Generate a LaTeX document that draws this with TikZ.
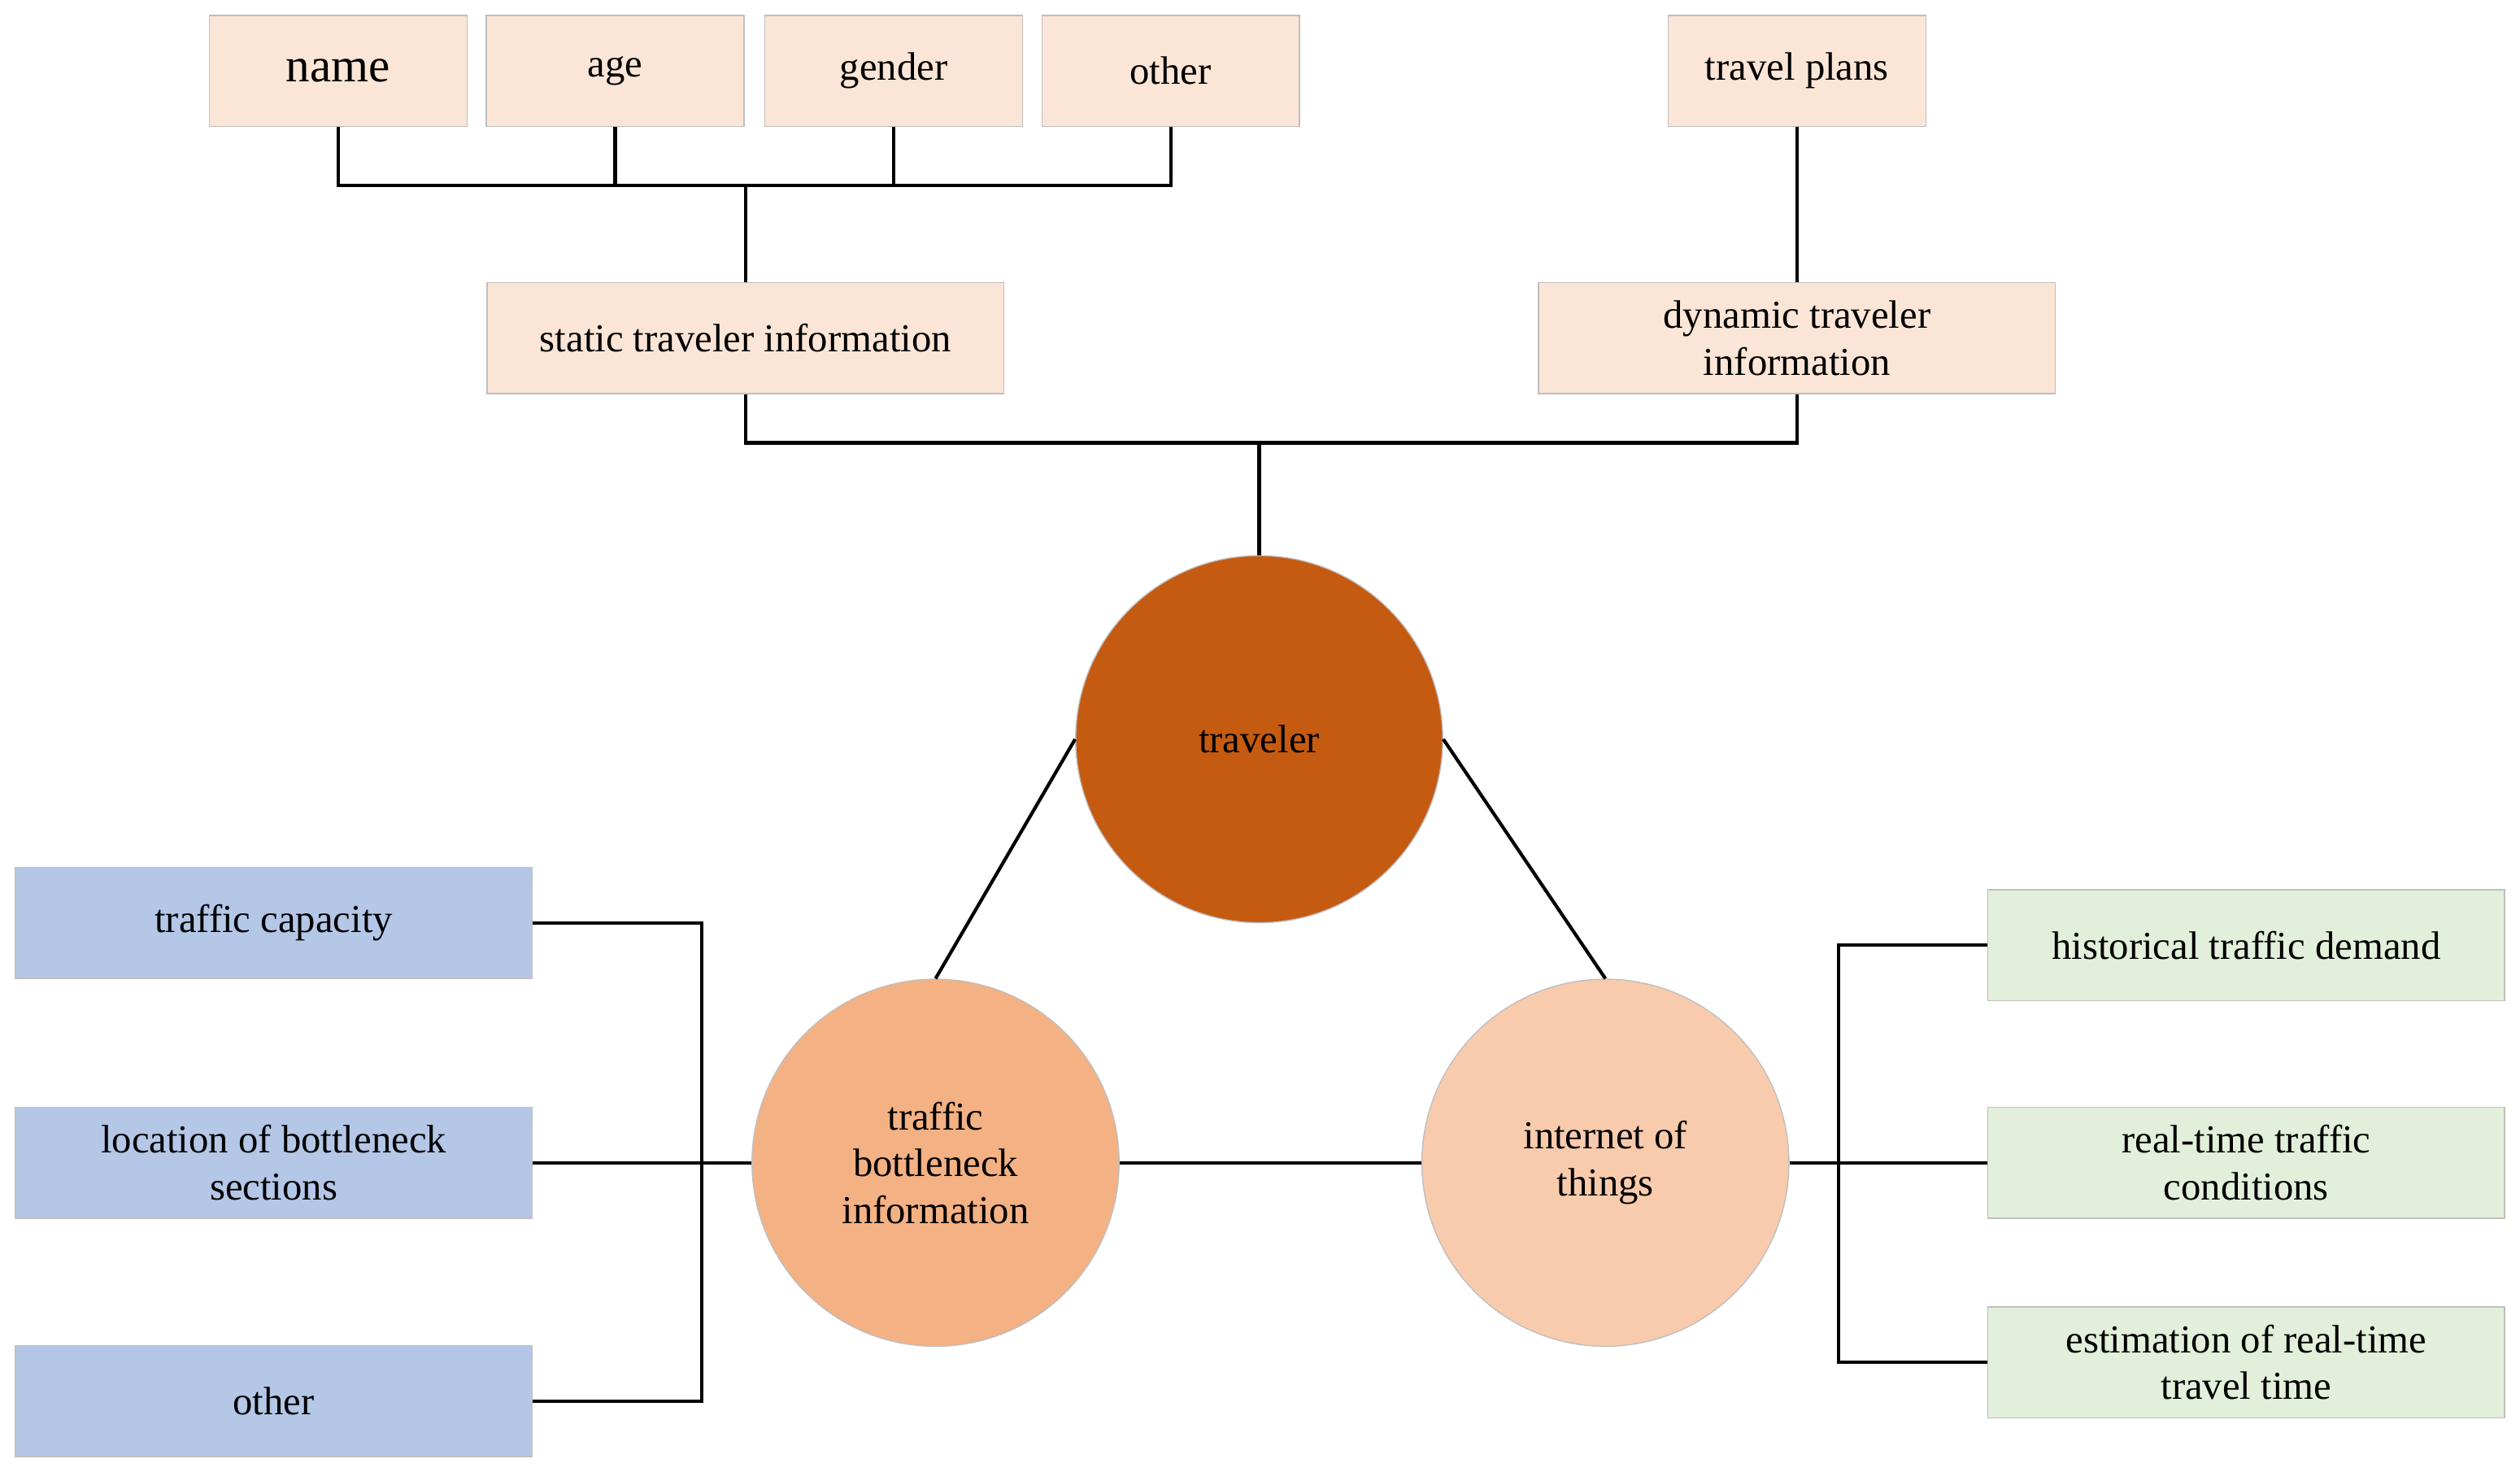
\documentclass[tikz,border=0pt]{standalone}
\usepackage{fontspec}
\setmainfont{Liberation Serif}
\begin{document}
\begin{tikzpicture}[x=0.02cm,y=-0.02cm,
 bx/.style={draw=black!25,minimum width=6.42cm,minimum height=1.38cm,align=center,font=\fontsize{14}{16.5}\selectfont,inner sep=1pt},
 sb/.style={bx,minimum width=3.2cm,fill=peach},
 pk/.style={bx,fill=peach},
 bl/.style={bx,fill=blueb},
 gr/.style={bx,fill=greenb},
 cir/.style={circle,draw=black!25,minimum size=4.56cm,align=center,font=\fontsize{14}{16.5}\selectfont,inner sep=0pt},
 ln/.style={line width=1.2pt}]
\definecolor{peach}{HTML}{FBE5D6}
\definecolor{blueb}{HTML}{B4C7E7}
\definecolor{greenb}{HTML}{E2EFDA}
\useasboundingbox (0,0) rectangle (1565,914);
\node[sb,font=\fontsize{17}{20}\selectfont] (n) at (210,44) {name};
\node[sb] (a) at (382,44) {age};
\node[sb] (g) at (555,44) {gender};
\node[sb] (o) at (727,44) {other};
\node[sb] (tp) at (1116,44) {travel plans};
\node[pk] (st) at (463,210) {static traveler information};
\node[pk] (dy) at (1116,210) {dynamic traveler\\information};
\node[cir,fill={rgb,255:red,197;green,90;blue,17}] (tr) at (782,459) {traveler};
\node[cir,fill={rgb,255:red,244;green,177;blue,131}] (tb) at (581,722) {traffic\\bottleneck\\information};
\node[cir,fill={rgb,255:red,248;green,203;blue,173}] (iot) at (997,722) {internet of\\things};
\node[bl] (b1) at (170,573) {traffic capacity};
\node[bl] (b2) at (170,722) {location of bottleneck\\sections};
\node[bl] (b3) at (170,870) {other};
\node[gr] (g1) at (1395,587) {historical traffic demand};
\node[gr] (g2) at (1395,722) {real-time traffic\\conditions};
\node[gr] (g3) at (1395,846) {estimation of real-time\\travel time};
\coordinate (j1) at (463,115);
\coordinate (j2) at (782,275);
\coordinate (jb) at (436,722);
\coordinate (jg) at (1142,722);
\draw[ln] (n.south) |- (j1) -| (o.south);
\draw[ln] (a.south) -- (a.south|-j1);
\draw[ln] (g.south) -- (g.south|-j1);
\draw[ln] (j1) -- (st.north);
\draw[ln] (tp.south) -- (dy.north);
\draw[ln] (st.south) |- (j2) -| (dy.south);
\draw[ln] (j2) -- (tr.north);
\draw[ln] (tr.west) -- (tb.north);
\draw[ln] (tr.east) -- (iot.north);
\draw[ln] (tb.east) -- (iot.west);
\draw[ln] (b1.east) -| (jb) |- (b3.east);
\draw[ln] (b2.east) -- (tb.west);
\draw[ln] (g1.west) -| (jg) |- (g3.west);
\draw[ln] (iot.east) -- (g2.west);
\end{tikzpicture}
\end{document}
